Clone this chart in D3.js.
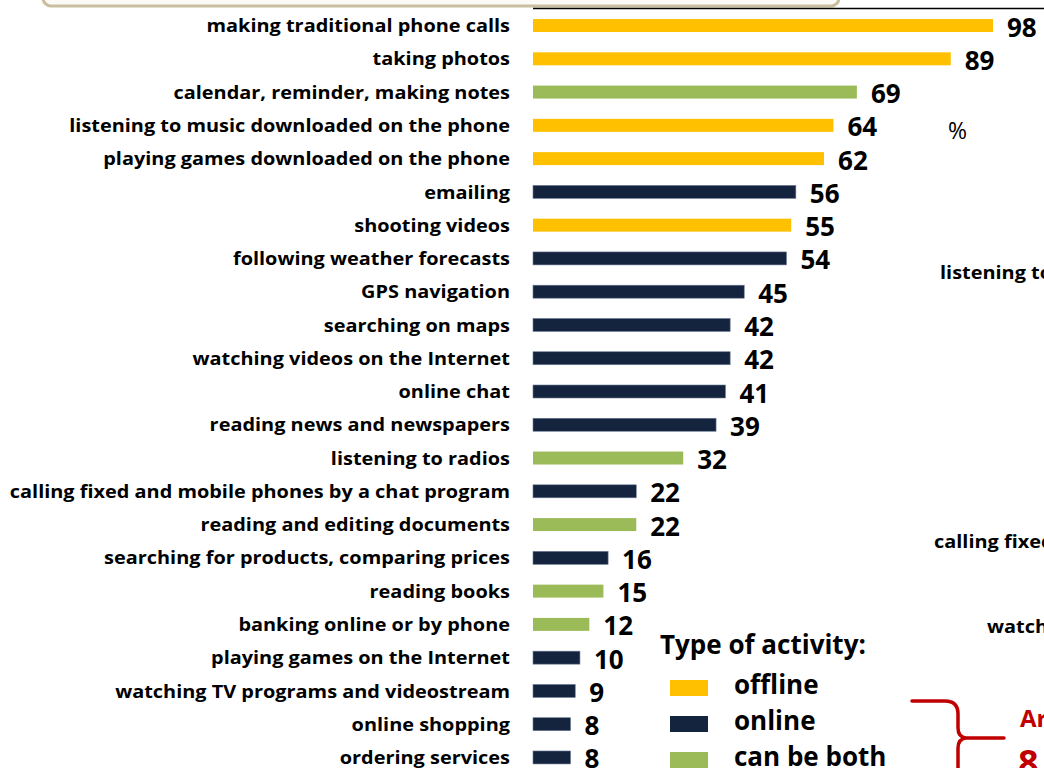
<!DOCTYPE html>
<html>
<head>
<meta charset="utf-8">
<script src="https://cdn.jsdelivr.net/npm/d3@7/dist/d3.min.js"></script>
<style>
  html, body { margin: 0; padding: 0; background: #fff; }
  svg { display: block; font-family: "Open Sans", Lato, sans-serif; }
</style>
</head>
<body>
<svg id="chart" width="1044" height="768"></svg>
<script>
// Smartphone activities, share of users (%)
const activities = [
  "making traditional phone calls",
  "taking photos",
  "calendar, reminder, making notes",
  "listening to music downloaded on the phone",
  "playing games downloaded on the phone",
  "emailing",
  "shooting videos",
  "following weather forecasts",
  "GPS navigation",
  "searching on maps",
  "watching videos on the Internet",
  "online chat",
  "reading news and newspapers",
  "listening to radios",
  "calling fixed and mobile phones by a chat program",
  "reading and editing documents",
  "searching for products, comparing prices",
  "reading books",
  "banking online or by phone",
  "playing games on the Internet",
  "watching TV programs and videostream",
  "online shopping",
  "ordering services"
];
const shares = [98, 89, 69, 64, 62, 56, 55, 54, 45, 42, 42, 41, 39, 32, 22, 22, 16, 15, 12, 10, 9, 8, 8];
const activityTypes = [
  "offline", "offline", "both", "offline", "offline", "online", "offline", "online",
  "online", "online", "online", "online", "online", "both", "online", "both",
  "online", "both", "both", "online", "online", "online", "online"
];
const typeKeys = ["offline", "online", "both"];
const typeLabels = ["offline", "online", "can be both"];
const typeColors = ["#FFC000", "#14243F", "#9BBB59"];

// Text fragments of the neighbouring chart that continues to the right
const sideLabels = ["listening to", "calling fixed", "watch"];
const noteLabels = ["Ar", "8"];

const svg = d3.select("#chart");
const rows = activities.map((a, i) => ({ name: a, value: shares[i], type: activityTypes[i] }));

const x = d3.scaleLinear().domain([0, 98]).range([533, 993]);
const y = d3.scaleBand().domain(activities).range([8.9, 774.1]).paddingInner(0.61).paddingOuter(0.305);
const color = d3.scaleOrdinal().domain(typeKeys).range(typeColors);
const stretch = 1.106; // labels are set slightly wide

// Title panel edge at the top
svg.append("rect")
  .attr("x", 43).attr("y", -30).attr("width", 796).attr("height", 36)
  .attr("rx", 8).attr("fill", "#fbfaf6")
  .attr("stroke", "#c9bf9f").attr("stroke-width", 3);

// Rule above the plot
svg.append("line")
  .attr("x1", 533).attr("x2", 1044).attr("y1", 8.5).attr("y2", 8.5)
  .attr("stroke", "#000").attr("stroke-width", 1.5);

// Bars
svg.append("g").selectAll("rect").data(rows).join("rect")
  .attr("x", x(0))
  .attr("y", d => y(d.name))
  .attr("width", d => x(d.value) - x(0))
  .attr("height", y.bandwidth())
  .attr("fill", d => color(d.type))
  .attr("stroke", d => d.type === "online" ? "#6b7a94" : "none")
  .attr("stroke-width", 0.6);

// Category labels
svg.append("g").selectAll("text").data(rows).join("text")
  .attr("transform", d => `translate(510,${y(d.name) + y.bandwidth() / 2}) scale(${stretch},1)`)
  .attr("text-anchor", "end")
  .attr("dominant-baseline", "central")
  .attr("font-size", 18)
  .attr("font-weight", 700)
  .attr("fill", "#000")
  .text(d => d.name);

// Value labels
svg.append("g").selectAll("text").data(rows).join("text")
  .attr("x", d => x(d.value) + 14)
  .attr("y", d => y(d.name) + y.bandwidth() / 2 + 1)
  .attr("dominant-baseline", "central")
  .attr("font-size", 26)
  .attr("font-weight", 700)
  .attr("fill", "#000")
  .text(d => d.value);

// Unit marker
svg.append("text")
  .attr("x", 948).attr("y", 130)
  .attr("dominant-baseline", "central")
  .attr("font-size", 23)
  .attr("fill", "#000")
  .text("%");

// Legend
const legend = svg.append("g");
legend.append("text")
  .attr("x", 660).attr("y", 644)
  .attr("dominant-baseline", "central")
  .attr("font-size", 26).attr("font-weight", 700)
  .text("Type of activity:");
const legendY = d3.scalePoint().domain(typeKeys).range([688, 760]);
const items = legend.selectAll("g.item").data(typeKeys).join("g").attr("class", "item");
items.append("rect")
  .attr("x", 670).attr("y", d => legendY(d) - 8)
  .attr("width", 38).attr("height", 16)
  .attr("fill", d => color(d));
items.append("text")
  .attr("x", 734).attr("y", d => legendY(d) - 4)
  .attr("dominant-baseline", "central")
  .attr("font-size", 26).attr("font-weight", 700)
  .text((d, i) => typeLabels[i]);

// Neighbouring chart fragments
const sidePos = [[940, 272], [934, 541], [987, 626]];
svg.append("g").selectAll("text").data(sideLabels).join("text")
  .attr("transform", (d, i) => `translate(${sidePos[i][0]},${sidePos[i][1]}) scale(${stretch},1)`)
  .attr("dominant-baseline", "central")
  .attr("font-size", 18).attr("font-weight", 700)
  .text(d => d);

// Bracket and note
svg.append("path")
  .attr("d", "M912,701 L945,701 Q958,701 958,714 L958,728 Q958,737 966,738 L1004,738 M966,738 Q958,739 958,748 L958,768")
  .attr("fill", "none").attr("stroke", "#C00000").attr("stroke-width", 3.5)
  .attr("stroke-linecap", "round");
svg.append("text")
  .attr("x", 1020).attr("y", 717)
  .attr("dominant-baseline", "central")
  .attr("font-size", 24).attr("font-weight", 700).attr("fill", "#C00000")
  .text(noteLabels[0]);
svg.append("text")
  .attr("x", 1018).attr("y", 762)
  .attr("dominant-baseline", "central")
  .attr("font-size", 36).attr("font-weight", 700).attr("fill", "#C00000")
  .text(noteLabels[1]);
</script>
</body>
</html>
